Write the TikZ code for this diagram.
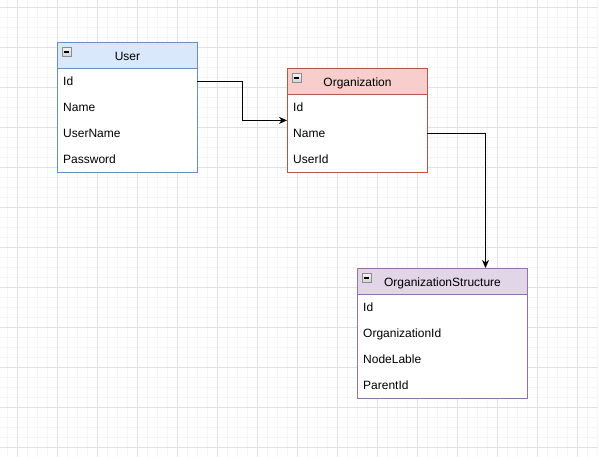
\documentclass[tikz,border=0pt]{standalone}
\usepackage{fontspec}
\setmainfont{Liberation Sans}
\usetikzlibrary{arrows.meta,calc}
\definecolor{userfill}{HTML}{DAE8FC}
\definecolor{userline}{HTML}{6C8EBF}
\definecolor{orgfill}{HTML}{F8CECC}
\definecolor{orgline}{HTML}{B85450}
\definecolor{osfill}{HTML}{E1D5E7}
\definecolor{osline}{HTML}{9673A6}
\definecolor{gridminor}{HTML}{F5F5F5}
\definecolor{gridmajor}{HTML}{E2E2E2}
\tikzset{
  gridmin/.style={draw=gridminor, line width=1pt},
  gridmaj/.style={draw=gridmajor, line width=1pt},
  hdr/.style={rectangle, anchor=north west, line width=1pt, inner sep=0pt,
    minimum height=26pt, font=\fontsize{12}{14}\selectfont,
    text height=9.2pt, text depth=0pt},
  bodybox/.style={rectangle, anchor=north west, line width=1pt, fill=white, inner sep=0pt},
  fieldrow/.style={rectangle, anchor=north west, inner xsep=6pt, inner ysep=0pt,
    minimum height=26pt, align=left, font=\fontsize{12}{14}\selectfont,
    text height=9.2pt, text depth=0pt},
  icon/.style={rectangle, draw=gray!90, top color=gray!10, bottom color=gray!35,
    line width=0.9pt, minimum size=9pt, inner sep=0pt,
    path picture={\draw[black, line width=1.4pt]
      ([xshift=2pt]path picture bounding box.west) --
      ([xshift=-2pt]path picture bounding box.east);}},
  conn/.style={draw=black, line width=1pt,
    -{Stealth[length=8pt, width=7pt, inset=2.5pt]}},
}
\begin{document}
\begin{tikzpicture}[x=1pt, y=-1pt]
\useasboundingbox (0,0) rectangle (598,457);
\fill[white] (0,0) rectangle (598,457);
% grid
\foreach \x in {7,17,...,597} \draw[gridmin] (\x,0) -- (\x,457);
\foreach \y in {8,18,...,456} \draw[gridmin] (0,\y) -- (598,\y);
\foreach \x in {17,57,...,597} \draw[gridmaj] (\x,0) -- (\x,457);
\foreach \y in {8,48,...,456} \draw[gridmaj] (0,\y) -- (598,\y);

% User table
\node[bodybox, draw=userline, minimum width=140pt, minimum height=104pt] (ubody) at (57,68) {};
\node[hdr, draw=userline, fill=userfill, minimum width=140pt] (uhdr) at (57,42) {User};
\node[icon] (uicon) at ([shift={(9.5,10)}]uhdr.north west) {};
\node[fieldrow, text width=128pt] (uid) at (57,68) {Id};
\node[fieldrow, text width=128pt] (uname) at (57,94) {Name};
\node[fieldrow, text width=128pt] (uuser) at (57,120) {UserName};
\node[fieldrow, text width=128pt] (upass) at (57,146) {Password};

% Organization table
\node[bodybox, draw=orgline, minimum width=140pt, minimum height=78pt] (obody) at (287,94) {};
\node[hdr, draw=orgline, fill=orgfill, minimum width=140pt] (ohdr) at (287,68) {Organization};
\node[icon] (oicon) at ([shift={(9.5,10)}]ohdr.north west) {};
\node[fieldrow, text width=128pt] (oid) at (287,94) {Id};
\node[fieldrow, text width=128pt] (oname) at (287,120) {Name};
\node[fieldrow, text width=128pt] (ouser) at (287,146) {UserId};

% OrganizationStructure table
\node[bodybox, draw=osline, minimum width=170pt, minimum height=104pt] (sbody) at (357,294) {};
\node[hdr, draw=osline, fill=osfill, minimum width=170pt] (shdr) at (357,268) {OrganizationStructure};
\node[icon] (sicon) at ([shift={(9.5,10)}]shdr.north west) {};
\node[fieldrow, text width=158pt] (sid) at (357,294) {Id};
\node[fieldrow, text width=158pt] (sorg) at (357,320) {OrganizationId};
\node[fieldrow, text width=158pt] (snode) at (357,346) {NodeLable};
\node[fieldrow, text width=158pt] (spar) at (357,372) {ParentId};

% connectors
\draw[conn] (uid.east) -- ++(45,0) |- (oid.south west);
\draw[conn] (oname.east) -| ([xshift=43pt]shdr.north);
\end{tikzpicture}
\end{document}
